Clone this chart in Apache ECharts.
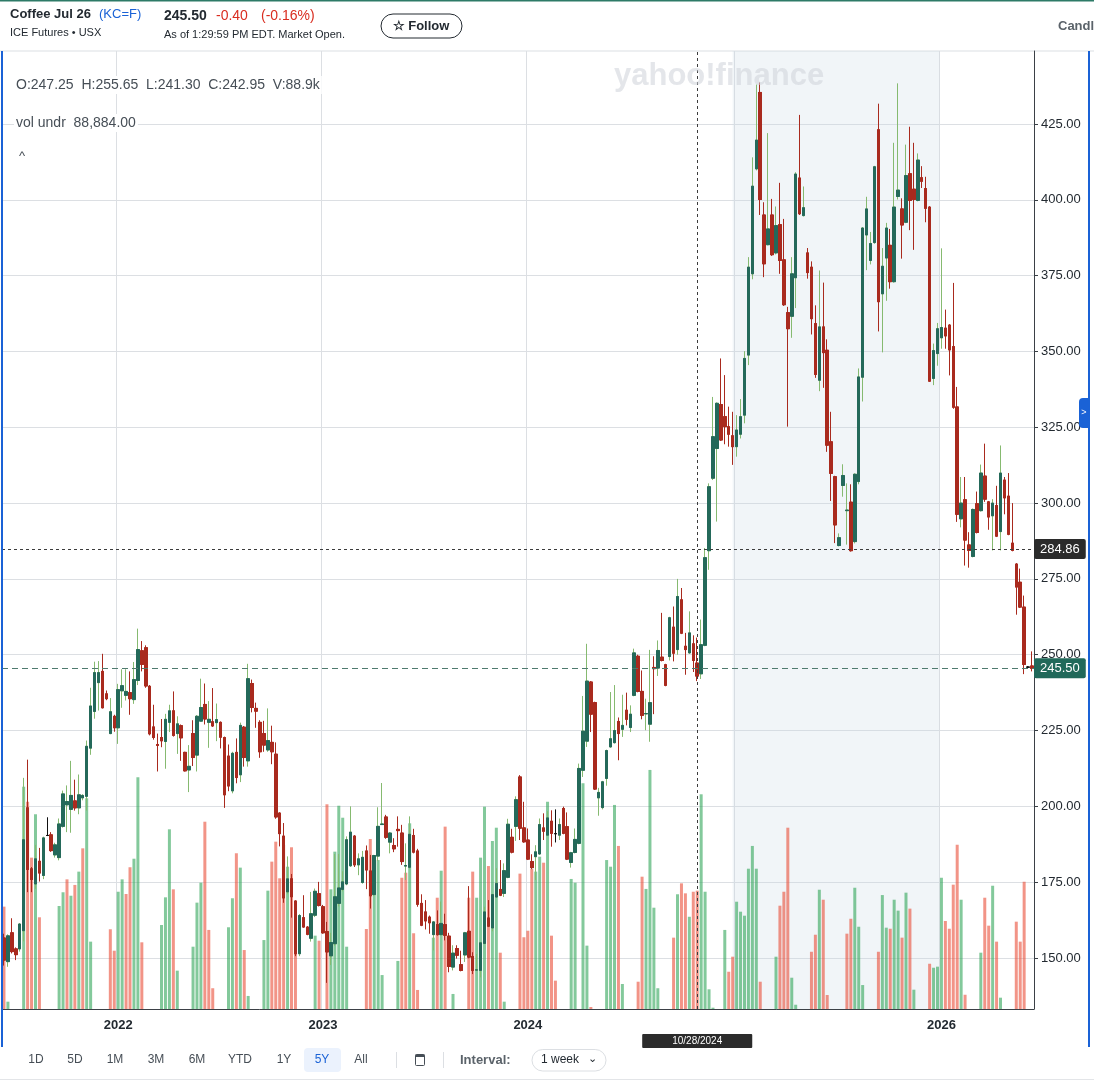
<!DOCTYPE html>
<html>
<head>
<meta charset="utf-8">
<title>Coffee Jul 26 (KC=F)</title>
<script src="https://cdn.jsdelivr.net/npm/echarts@6/dist/echarts.min.js"></script>
<style>
  html, body { margin: 0; padding: 0; background: #fff; }
  #chart { width: 1094px; height: 1081px; }
</style>
</head>
<body>
<div id="chart"></div>
<script>
// weekly bars, first week starts Monday 2021-06-14
const firstWeek = [2021, 5, 14];

const opens = [
  156.6, 148.8, 158.3, 153, 153, 159, 199.5, 179.4, 174.4, 181.9,
  177.2, 190.4, 190.6, 184, 183.1, 193.4, 200.5, 199, 201.8, 199.5,
  202.8, 203.3, 219.2, 231.3, 240.8, 244.5, 237.1, 224, 229.7, 225.9,
  238.1, 236.6, 237.5, 235.2, 241.5, 251.3, 252.3, 239.6, 226.2, 220.4,
  222.7, 221.4, 227.7, 231.5, 224, 226.6, 217.8, 212, 224, 216.9,
  228.1, 233.6, 227.7, 227.9, 227.6, 227.7, 222.7, 216.6, 205.1, 217.8,
  210.4, 226.1, 215, 240.5, 232.3, 227.7, 224, 218.6, 221.1, 217.2,
  197.8, 190.2, 171.8, 176.1, 168.8, 151.4, 163.3, 160.2, 156.5, 164.1,
  171.2, 166.9, 158.7, 150.7, 154.7, 168, 172.6, 174.4, 180.4, 190.2,
  180.7, 174.9, 185.3, 178.7, 170.9, 183.6, 194, 196.5, 188.2, 187.1,
  192.4, 191.2, 180.3, 179.9, 190.4, 185.3, 168, 165.2, 163.5, 157.7,
  161, 157.7, 161, 157.2, 147, 153.1, 147.8, 151, 158.8, 150.5,
  146, 145.9, 154.8, 163.2, 159.9, 170.1, 172.6, 171.3, 176.6, 189.8,
  193.4, 209.7, 192.9, 188.9, 181.8, 183.4, 184.3, 192.9, 190.5, 195.1,
  191, 190.5, 199.3, 193.3, 181.5, 184.8, 187.8, 211.9, 221.5, 241,
  234.2, 202.8, 199.6, 209.2, 219.6, 221, 228, 225.4, 231.7, 226,
  236.6, 249.5, 237.9, 230.5, 227.1, 245.8, 245.6, 249.2, 246.7, 249.4,
  259.1, 251.7, 268.1, 252.8, 250.6, 253.6, 247.25, 243.7, 253.1, 284.3,
  308.2, 318, 332.5, 328.5, 325.2, 322.2, 318.6, 322.7, 329, 348.8,
  375.6, 410.2, 435.4, 395, 385.2, 395, 382.5, 391.8, 380.2, 362.8,
  361.6, 374.3, 407.2, 394.8, 382.5, 377.8, 359.2, 340.5, 358.1, 350.4,
  320.2, 308.7, 286, 305.8, 297.5, 300.3, 287.3, 307.1, 341.5, 388.4,
  380, 385.9, 423.1, 369, 380.8, 385, 373, 401.1, 397, 392.6,
  408.6, 403.5, 399.8, 407.3, 403.7, 397.6, 341.1, 349.3, 354.5, 357.7,
  358.7, 351.6, 331.7, 294.8, 301.1, 286.2, 282.4, 299.8, 297.5, 308.9,
  300.4, 295.8, 299.2, 290.6, 307.6, 302.3, 286.8, 279.9, 273.9, 265.7,
  245.9, 246.3
];

const closes = [
  149.3, 157.3, 152.1, 151.1, 161.2, 189, 179.2, 175.9, 182.7, 178,
  189.6, 190.4, 185.4, 187.3, 194.2, 204.1, 201.6, 203.6, 199.5, 203.8,
  203.6, 219.8, 233.1, 244.1, 244.1, 232.5, 235.5, 231.2, 225.9, 238.5,
  239.8, 237.9, 235.5, 241.8, 251.7, 246.8, 239.7, 223.9, 222.7, 220.1,
  221.6, 228.7, 231.5, 223.4, 227.2, 222.6, 211.7, 213.2, 216.1, 229.7,
  232.6, 228.8, 228.7, 226.5, 228.6, 222.8, 203.8, 206.7, 217.5, 209.5,
  226.7, 216.1, 242.1, 232.6, 231.4, 218, 220.2, 221.7, 218, 196.5,
  191, 169.8, 176.1, 170.2, 151.4, 164, 160.2, 157.8, 164.6, 172,
  167.3, 158.3, 152, 155.1, 170.2, 173.1, 175.1, 189, 191.5, 180.7,
  182.7, 183.2, 179, 170.5, 183.8, 193.4, 194.2, 189.8, 191.2, 186,
  192, 181.8, 180.5, 190.8, 184.9, 167.7, 160.8, 162.2, 161.6, 161.9,
  157.7, 161.4, 157.5, 147.2, 151.6, 150.9, 145.9, 158.3, 150.3, 145.9,
  146.1, 155, 165.2, 160.5, 170.9, 174.6, 170.7, 178.8, 194.1, 184.9,
  202.2, 192.8, 188.3, 182.6, 179.8, 185, 194, 191.8, 196.2, 191.1,
  191, 194, 191.1, 182.6, 184.7, 189.1, 212.5, 224.8, 241.3, 230.4,
  205.7, 204.6, 208.1, 218.4, 222.3, 225, 224, 226.7, 228.7, 230.4,
  250.6, 237.9, 230, 230.6, 234.2, 245.4, 251.4, 248.1, 239.9, 262.2,
  250.5, 269.2, 257.1, 251.7, 257.2, 248.1, 242.95, 253.3, 282, 305.4,
  321.9, 332.9, 320.8, 325.2, 322.7, 318.6, 324.1, 328.5, 347.7, 377.8,
  404.5, 419.7, 400.1, 378.9, 390.4, 381.9, 391.5, 380, 365.4, 357.5,
  375.6, 408.5, 395.4, 397.4, 376, 360.8, 342.4, 358.1, 349.6, 319.1,
  309.8, 292.8, 288.6, 309.1, 297.7, 284.3, 309.5, 341.6, 390.7, 397,
  385.6, 410.9, 366.4, 378.1, 390.7, 373, 397.6, 403.2, 391.7, 408,
  399.8, 400.1, 413.1, 406.1, 397.2, 340.2, 350.3, 357.5, 357.9, 355.1,
  350.5, 331.6, 296.3, 300, 287.8, 284.4, 297.9, 290.3, 309.9, 301.3,
  295.4, 300, 289.1, 309.9, 301.7, 289.7, 284.4, 272.3, 265.7, 246.8,
  245.9, 245.5
];

const lows = [
  147.5, 147.1, 151.5, 149.3, 152.1, 155.5, 171.7, 171.7, 172.8, 175.2,
  176, 190.2, 185, 183.1, 182.2, 193, 191.5, 191.3, 198.6, 197.4,
  202, 198.6, 217, 228.9, 231.6, 232.3, 235, 223.8, 224.6, 220.6,
  232.5, 234.9, 230.2, 233.8, 240, 244.5, 239.1, 223.4, 222, 211.5,
  219.5, 212.4, 224.5, 223, 217.3, 215, 211.5, 204.7, 213.3, 211.5,
  228, 227, 219.3, 226.2, 221.5, 219.1, 199.5, 205, 204.3, 207.6,
  208, 213.1, 213.1, 231, 225.9, 216, 218, 218, 213.9, 195.9,
  186.8, 168.2, 171, 163.3, 150.6, 150.6, 160, 157.5, 155.4, 163.5,
  167, 158, 141.8, 147.7, 154, 167, 172, 174, 180, 180,
  177.3, 174.5, 172.7, 166.3, 170.5, 182, 193.9, 189.3, 184.5, 184.9,
  186.7, 180.7, 175.7, 179.5, 184.5, 166.9, 160.5, 159.4, 158, 152.5,
  157.4, 157.4, 155.8, 145.3, 145.9, 149.8, 145.6, 148.7, 149.9, 144.7,
  145.8, 143.6, 154.5, 160.2, 158.8, 169.8, 170.4, 170.1, 176.3, 184.5,
  188.6, 188.9, 188, 182.3, 179.3, 175.7, 184, 188.9, 190.2, 186.7,
  188.1, 188.9, 190.8, 182.3, 179.8, 184.5, 187.5, 209.7, 219.6, 224.5,
  205.4, 196.9, 199, 206.8, 219.3, 220.7, 215.2, 222.9, 226.7, 224.5,
  236.3, 237.6, 228.7, 225.1, 221.3, 230.4, 243, 247.8, 239.6, 248.1,
  247.8, 250, 256.8, 243.4, 250.3, 244.3, 241.3, 242, 252.8, 278,
  307.6, 293.9, 320.5, 319.4, 318.6, 312.6, 315.3, 321.3, 326.3, 345.5,
  373.8, 409.7, 395, 374.5, 385, 381.5, 382, 375.6, 365, 325.2,
  354.5, 364.3, 395, 394.5, 374, 355.6, 341.3, 336.9, 338, 316.9,
  300.7, 286.8, 285.7, 302.1, 286.3, 284, 286.7, 306.2, 333.5, 376.8,
  378.7, 385.5, 356.6, 349.7, 366.7, 370.7, 372.7, 400.1, 380.6, 392.3,
  390, 383.5, 399.5, 403.9, 392.6, 340, 338.9, 345.3, 350.9, 350.9,
  342.1, 331.1, 293.8, 292, 279.4, 278.7, 282.1, 290, 297.2, 300.4,
  291.2, 284.4, 288.8, 284.4, 296.3, 289.4, 284.1, 263.2, 265.4, 243.6,
  245.5, 244.5
];

const highs = [
  158, 157.8, 163.1, 153.5, 161.5, 209.4, 215.4, 180, 187.3, 186.3,
  190, 196.4, 191.5, 188, 196, 205.2, 206.9, 215, 208.8, 210.5,
  204, 221.7, 239.1, 247.7, 247.9, 250.3, 238.2, 235.7, 230.2, 240.4,
  245.2, 245.2, 244.5, 247.6, 258.6, 254.5, 253.1, 240, 233.5, 224,
  228.8, 230.5, 233.5, 237.9, 229.7, 227, 218, 220.2, 228.4, 230.1,
  242.1, 240.5, 234.7, 239, 233.9, 228, 223, 220.4, 218, 222.4,
  227.6, 226.5, 247, 241.8, 234.2, 228.4, 228.2, 232.3, 226.6, 221.1,
  198, 194.5, 183.5, 177.7, 169, 164.5, 170.7, 160.5, 171.8, 172.9,
  175.1, 167.5, 161.9, 158.3, 184.3, 184.3, 178.6, 190.1, 200, 190.5,
  184.5, 185.3, 187.1, 184, 184, 199.7, 207.7, 197.2, 191.5, 189.5,
  196.7, 193.9, 187.8, 196.7, 192.6, 186, 171, 169.1, 164, 162.2,
  165.7, 168.6, 164.6, 158.3, 154.2, 154.2, 152.4, 158.6, 173.7, 151.9,
  151.3, 155.3, 166.9, 169.1, 171.2, 179.6, 182.3, 181.2, 195.9, 192.6,
  203.3, 210.3, 201.5, 192.7, 184.2, 187.2, 196, 197.7, 198.4, 198.7,
  199, 196, 199.9, 198, 185, 192.7, 214.1, 236.4, 253.6, 241.3,
  234.5, 206.1, 208.4, 218.7, 237.7, 240, 229.3, 236.8, 237.5, 233.3,
  252, 250, 244.8, 235.5, 251.6, 249.5, 254.7, 263.8, 247, 262.5,
  265.9, 275, 272, 257.2, 264.3, 256.4, 255.65, 261.6, 285.2, 306.5,
  335, 333.2, 347.7, 342.2, 331.8, 330.1, 329, 334.3, 350.1, 381.1,
  414, 438, 438.7, 399.2, 422, 400.3, 397.8, 405.6, 393.7, 364.7,
  381.1, 409.1, 428, 404.4, 384.1, 379.7, 365.2, 376.7, 372.7, 354,
  330.1, 309, 290, 312.8, 306.5, 306.2, 309.8, 344.4, 391, 401,
  389.4, 411.2, 431.7, 384.1, 392.4, 390.4, 418.8, 438.4, 400.5, 418.2,
  424.1, 418.8, 415.3, 411.1, 407.6, 397.9, 352.6, 359.4, 384, 363.8,
  359, 372.6, 338.3, 308.6, 308.6, 290.4, 298.2, 303.8, 312.7, 319.6,
  300.7, 301.3, 305.7, 319, 308.6, 309.9, 300, 280.2, 278.4, 269.5,
  246.2, 251.1
];

// volume, thousands of contracts
const volumes = [
  76.9, 5.5, 0, 0, 0, 167, 155.7, 113.7, 146.3, 68.9,
  0, 0, 0, 0, 77.4, 87.7, 97.4, 85.1, 93.2, 103.2,
  120.7, 158.3, 50.6, 0, 0, 0, 0, 59.9, 43.8, 88.1,
  97.4, 86.4, 106.5, 112.9, 174.1, 50.1, 0, 0, 0, 0,
  63.1, 83.9, 135, 89.9, 28.8, 0, 0, 0, 46.8, 79.9,
  94.9, 140.7, 59.4, 15.6, 0, 0, 0, 61.4, 83.2, 117,
  106.2, 44.3, 9.8, 0, 0, 0, 51.8, 88.9, 110.7, 125.7,
  98.2, 123.2, 106.9, 121.5, 41.8, 0, 0, 0, 0, 55.1,
  51.3, 0, 153.8, 89.9, 118.2, 152.7, 143.7, 46.8, 0, 0,
  0, 0, 60.1, 127.7, 114.4, 111.9, 25.5, 0, 0, 0,
  36.1, 98.6, 102.4, 139.5, 56.9, 14.3, 0, 0, 0, 53.6,
  83.6, 103.9, 137, 0, 11.3, 0, 0, 0, 83.6, 103.2,
  83.6, 113.7, 152, 107.4, 126.2, 136.2, 42.3, 5.5, 0, 0,
  0, 101.7, 53.9, 58.8, 105.2, 103.2, 114.4, 109.9, 155.7, 55.1,
  21.3, 0, 0, 0, 97.7, 94.9, 0, 169.6, 47.6, 1.5,
  0, 0, 0, 111.9, 106.9, 153.3, 122.5, 18.8, 0, 0,
  0, 20.5, 99.4, 90.2, 179.6, 76.1, 15.6, 0, 0, 0,
  53.6, 86.2, 94.4, 86.9, 69.3, 88.1, 88.9, 161.3, 88.1, 14.8,
  1.0, 0, 0, 59.4, 28, 39.3, 80.6, 73.1, 70.1, 105.4,
  122.5, 105.4, 20.5, 0, 0, 0, 39.3, 77.6, 88.1, 136.2,
  23.5, 3.2, 0, 0, 0, 43, 55.8, 89.6, 82.1, 10.5,
  0, 0, 0, 0, 56.6, 67.8, 91.1, 61.8, 18, 0,
  0, 0, 43, 85.6, 61.1, 60.3, 82.1, 73.9, 53.6, 87.4,
  75.4, 14.5, 0, 0, 0, 34, 31, 31.8, 98.6, 66.1,
  60.3, 93.4, 123.4, 82.1, 10.7, 0, 0, 0, 42.3, 83.6,
  62.6, 92.6, 50.6, 8.5, 0, 0, 0, 65.6, 50.6, 95.6,
  0, 0
];

const priceTicks = [150, 175, 200, 225, 250, 275, 300, 325, 350, 375, 400, 425];
const crossWeek = '2024-10-28';
const crossPrice = 284.86;
const lastPrice = 245.50;

const upBody = '#24695a', upWick = '#86ba70', downColor = '#a92a1e', dojiColor = '#111';
const volUp = 'rgba(48,165,88,0.6)', volDown = 'rgba(233,77,55,0.6)';
const gridColor = '#dcdfe3', axisColor = '#3b4046', textColor = '#232a31';
const font = '"Liberation Sans", Arial, sans-serif';

// week labels
const weeks = [];
const t0 = Date.UTC(firstWeek[0], firstWeek[1], firstWeek[2]);
for (let i = 0; i < opens.length; i++) {
  weeks.push(new Date(t0 + i * 7 * 86400000).toISOString().slice(0, 10));
}
const yearStart = new Set();
for (let i = 1; i < weeks.length; i++) {
  if (weeks[i].slice(0, 4) !== weeks[i - 1].slice(0, 4)) yearStart.add(i);
}
const labelled = new Set([...yearStart].filter(i => weeks[i].slice(0, 4) !== '2025'));

const candleData = weeks.map((w, i) => {
  const item = { value: [opens[i], closes[i], lows[i], highs[i]] };
  if (opens[i] === closes[i]) item.itemStyle = { color: dojiColor, borderColor: dojiColor };
  return item;
});
const bodyData = weeks.map((w, i) => {
  const o = opens[i], c = closes[i];
  const item = { value: [o, c, Math.min(o, c), Math.max(o, c)] };
  if (o === c) item.itemStyle = { color: dojiColor, borderColor: dojiColor };
  return item;
});
const volData = volumes.map((v, i) => {
  const prev = i > 0 ? closes[i - 1] : opens[i];
  return { value: v, itemStyle: { color: closes[i] >= prev ? volUp : volDown } };
});

const chart = echarts.init(document.getElementById('chart'));

const txt = (x, y, text, f, fill, extra) => ({
  type: 'text', x: x, y: y, z: 100,
  style: Object.assign({ text: text, font: f, fill: fill, verticalAlign: 'middle' }, extra || {})
});

const tb = ['1D', '5D', '1M', '3M', '6M', 'YTD', '1Y', '5Y', 'All'];
const tbX = [36, 75, 115, 156, 197, 240, 284, 322, 361];

const graphics = [
  { type: 'rect', shape: { x: 0, y: 0, width: 1094, height: 1.5 }, style: { fill: '#2d7a67' } },
  { type: 'rect', shape: { x: 0, y: 50.5, width: 1094, height: 1 }, style: { fill: gridColor } },
  { type: 'rect', shape: { x: 0, y: 1079, width: 1094, height: 1 }, style: { fill: '#e3e5e8' } },
  { type: 'rect', z: 100, shape: { x: 1, y: 51, width: 2, height: 996 }, style: { fill: '#1a62d6' } },
  { type: 'rect', z: 100, shape: { x: 1088, y: 51, width: 2, height: 996 }, style: { fill: '#1a62d6' } },
  { type: 'rect', z: 100, shape: { x: 1079, y: 398, width: 10, height: 30, r: [4, 0, 0, 4] }, style: { fill: '#1a62d6' } },
  txt(1084, 413, '>', '9px ' + font, '#fff', { align: 'center' }),

  txt(10, 14, 'Coffee Jul 26', 'bold 13px ' + font, textColor),
  txt(99, 14, '(KC=F)', '13px ' + font, '#1a62d6'),
  txt(10, 33, 'ICE Futures • USX', '11px ' + font, textColor),
  txt(164, 16, '245.50', 'bold 14px ' + font, textColor),
  txt(216, 16, '-0.40', '14px ' + font, '#d92d20'),
  txt(261, 16, '(-0.16%)', '14px ' + font, '#d92d20'),
  txt(164, 35, 'As of 1:29:59 PM EDT. Market Open.', '11px ' + font, textColor),
  { type: 'rect', z: 100, shape: { x: 381, y: 14, width: 81, height: 24, r: 12 }, style: { fill: '#fff', stroke: textColor, lineWidth: 1 } },
  txt(421, 26, '☆ Follow', 'bold 13px ' + font, textColor, { align: 'center' }),
  txt(1058, 26, 'Candle', 'bold 13px ' + font, '#5b636a'),

  txt(614, 76, 'yahoo!finance', 'bold 31px ' + font, 'rgba(205,210,216,0.55)'),
  txt(14, 85, 'O:247.25  H:255.65  L:241.30  C:242.95  V:88.9k', '14px ' + font, '#464e56',
    { backgroundColor: '#fff', padding: [2, 2] }),
  txt(14, 123, 'vol undr  88,884.00', '14px ' + font, '#464e56',
    { backgroundColor: '#fff', padding: [2, 2] }),
  txt(19, 156, '^', '13px ' + font, '#464e56'),

  { type: 'rect', z: 100, shape: { x: 304, y: 1048, width: 37, height: 24, r: 4 }, style: { fill: '#ebf2fd' } },
  { type: 'rect', z: 100, shape: { x: 396, y: 1052, width: 1, height: 16 }, style: { fill: gridColor } },
  { type: 'rect', z: 100, shape: { x: 443, y: 1052, width: 1, height: 16 }, style: { fill: gridColor } },
  { type: 'rect', z: 100, shape: { x: 415.5, y: 1054.5, width: 9, height: 11, r: 1 }, style: { fill: 'none', stroke: '#464e56', lineWidth: 1 } },
  { type: 'rect', z: 100, shape: { x: 415.5, y: 1054.5, width: 9, height: 2.5 }, style: { fill: '#464e56' } },
  txt(460, 1060, 'Interval:', 'bold 13px ' + font, '#5b636a'),
  { type: 'rect', z: 100, shape: { x: 532, y: 1049.5, width: 74, height: 21.5, r: 11 }, style: { fill: '#fff', stroke: gridColor, lineWidth: 1 } },
  txt(541, 1060, '1 week', '12px ' + font, textColor),
  txt(588, 1059, '⌄', '11px ' + font, textColor)
];
tb.forEach((t, i) => {
  graphics.push(txt(tbX[i], 1060, t, '12px ' + font, t === '5Y' ? '#1a62d6' : '#464e56', { align: 'center' }));
});

const option = {
  animation: false,
  backgroundColor: '#fff',
  textStyle: { fontFamily: font },
  grid: { left: 2, right: 60, top: 51, bottom: 72 },
  xAxis: {
    type: 'category',
    data: weeks,
    boundaryGap: true,
    axisLine: { lineStyle: { color: axisColor, width: 1 } },
    axisTick: { interval: i => labelled.has(i), length: 5, lineStyle: { color: axisColor } },
    axisLabel: {
      interval: i => labelled.has(i),
      formatter: v => v.slice(0, 4),
      color: textColor, fontSize: 13, fontWeight: 'bold', margin: 10
    },
    splitLine: { show: true, interval: i => yearStart.has(i), lineStyle: { color: gridColor, width: 1 } }
  },
  yAxis: [
    {
      type: 'value',
      position: 'right',
      min: 133.18,
      max: 449.07,
      axisLine: { show: true, lineStyle: { color: axisColor, width: 1 } },
      axisTick: { show: true, customValues: priceTicks, length: 4, lineStyle: { color: axisColor } },
      axisLabel: { customValues: priceTicks, formatter: v => v.toFixed(2), color: textColor, fontSize: 13, margin: 7 },
      splitLine: { show: true, lineStyle: { color: gridColor, width: 1 } }
    },
    { type: 'value', min: 0, max: 719.7, show: false }
  ],
  graphic: graphics,
  series: [
    {
      name: 'Volume',
      type: 'bar',
      yAxisIndex: 1,
      barWidth: 3,
      data: volData,
      silent: true,
      markArea: {
        silent: true,
        itemStyle: { color: 'rgba(201,215,228,0.25)' },
        data: [
          [{ xAxis: '2025-01-06' }, { xAxis: '2025-12-29' }],
          [{ xAxis: '2026-05-04' }, { xAxis: weeks[weeks.length - 1] }]
        ]
      }
    },
    {
      name: 'Wicks',
      type: 'candlestick',
      barWidth: 3,
      silent: true,
      data: candleData,
      itemStyle: { color: upBody, color0: downColor, borderColor: upWick, borderColor0: downColor, borderWidth: 1 }
    },
    {
      name: 'KC=F',
      type: 'candlestick',
      barWidth: 3,
      silent: true,
      data: bodyData,
      itemStyle: { color: upBody, color0: downColor, borderColor: upBody, borderColor0: downColor, borderWidth: 1 },
      markLine: {
        silent: true,
        symbol: ['none', 'none'],
        animation: false,
        data: [
          {
            xAxis: crossWeek,
            lineStyle: { color: '#3c3c3c', type: [3, 3], width: 1 },
            label: {
              show: true, position: 'start', distance: 25, formatter: '10/28/2024',
              color: '#fff', backgroundColor: '#2b2b2b', padding: [2, 30], fontSize: 10, borderRadius: 1
            }
          },
          {
            yAxis: crossPrice,
            lineStyle: { color: '#3c3c3c', type: [3, 3], width: 1 },
            label: {
              show: true, position: 'end', distance: 0, formatter: crossPrice.toFixed(2),
              color: '#fff', backgroundColor: '#2b2b2b', padding: [4, 6, 3, 6], fontSize: 13, borderRadius: 2
            }
          },
          {
            yAxis: lastPrice,
            lineStyle: { color: '#4f7a6e', type: [6, 4], width: 1 },
            label: {
              show: true, position: 'end', distance: 0, formatter: lastPrice.toFixed(2),
              color: '#fff', backgroundColor: '#21695a', padding: [4, 6, 3, 6], fontSize: 13, borderRadius: 2
            }
          }
        ]
      }
    }
  ]
};

chart.setOption(option);
</script>
</body>
</html>
